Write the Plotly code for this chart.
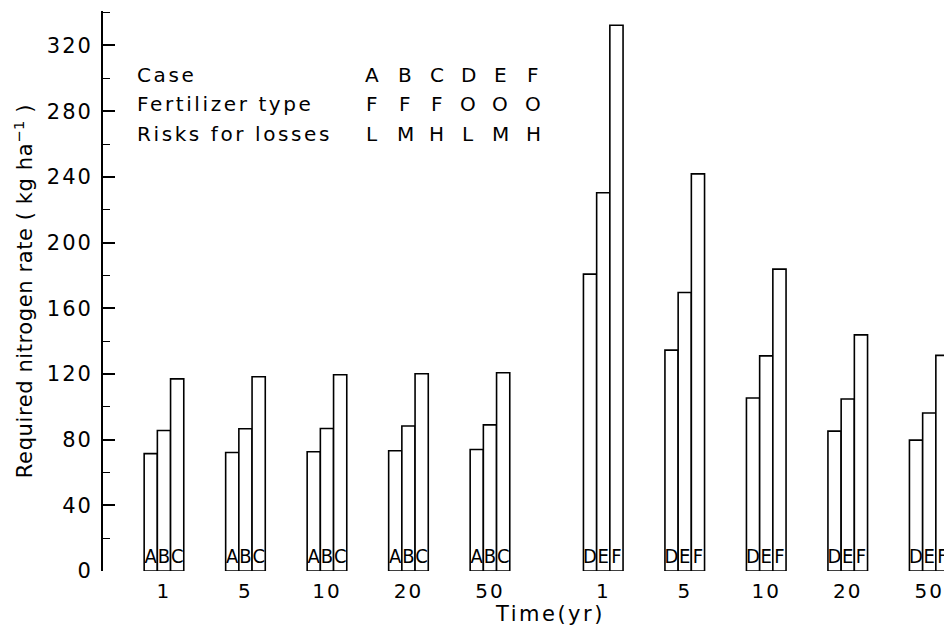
import plotly.graph_objects as go

# ---- data ----
times = ["1", "5", "10", "20", "50"]
case_A = [71.5, 72.2, 72.6, 73.2, 74.0]
case_B = [85.6, 86.6, 86.8, 88.3, 89.0]
case_C = [117.0, 118.3, 119.5, 120.1, 120.7]
case_D = [180.8, 134.5, 105.3, 85.2, 79.7]
case_E = [230.3, 169.6, 131.0, 104.7, 96.2]
case_F = [332.3, 241.8, 183.8, 143.8, 131.3]

cases = ["A", "B", "C", "D", "E", "F"]
fert_type = ["F", "F", "F", "O", "O", "O"]
risk = ["L", "M", "H", "L", "M", "H"]
row_labels = ["Case", "Fertilizer type", "Risks for losses"]

y_ticks = [0, 40, 80, 120, 160, 200, 240, 280, 320]
y_minor = [20, 60, 100, 140, 180, 220, 260, 300, 340]

# ---- layout helpers ----
W, H = 944, 631
ML, MR, MT, MB = 103, 0, 11, 60
left_pos = [0, 1, 2, 3, 4]
right_pos = [p + 5.39 for p in left_pos]
bw = 0.162
xr = [-0.748, -0.748 + (W - ML - MR) / 81.5]
yr = [0, 341]

font_main = "DejaVu Sans"
font_bar = "DejaVu Sans Condensed, DejaVu Sans"


def sp(t, s=2.5):
    return '<span style="letter-spacing:%spx">%s</span>' % (s, t)


fig = go.Figure()

series = [
    ("A", case_A, left_pos, -1),
    ("B", case_B, left_pos, 0),
    ("C", case_C, left_pos, 1),
    ("D", case_D, right_pos, -1),
    ("E", case_E, right_pos, 0),
    ("F", case_F, right_pos, 1),
]

for name, vals, pos, k in series:
    xs = [p + k * bw for p in pos]
    fig.add_trace(go.Bar(
        x=xs, y=vals, width=bw, name=name,
        marker=dict(color="white", line=dict(color="black", width=1.6)),
        showlegend=False, hoverinfo="y",
    ))
    fig.add_trace(go.Scatter(
        x=xs, y=[8.2] * len(xs), mode="text", text=[name] * len(xs),
        textposition="middle center",
        textfont=dict(family=font_bar, size=20, color="black"),
        showlegend=False, hoverinfo="skip",
    ))

tickvals = left_pos + right_pos
ticktext = [sp(t, 2) for t in times + times]

fig.update_layout(
    width=W, height=H,
    margin=dict(l=ML, r=MR, t=MT, b=MB, autoexpand=False),
    paper_bgcolor="white", plot_bgcolor="white",
    barmode="overlay",
    font=dict(family=font_main, size=20, color="black"),
    xaxis=dict(
        range=xr, tickvals=tickvals, ticktext=ticktext,
        showline=False, showgrid=False, zeroline=False, ticks="",
        tickfont=dict(size=20), ticklabelstandoff=6,
    ),
    yaxis=dict(
        range=yr, tickvals=y_ticks, ticktext=[sp(str(v), 2) for v in y_ticks],
        showline=True, linecolor="black", linewidth=1.8,
        showgrid=False, zeroline=False,
        ticks="inside", ticklen=12, tickwidth=1.6, tickcolor="black",
        minor=dict(tickvals=y_minor, ticks="inside", ticklen=7,
                   tickwidth=1.4, tickcolor="black"),
        tickfont=dict(size=21), ticklabelstandoff=4,
        title=dict(text=sp("Required nitrogen rate ( kg ha<sup>−1</sup> )", 0.6),
                   font=dict(size=21), standoff=8),
    ),
)


def px2paper(px, py):
    return (px - ML) / (W - ML - MR), (H - MB - py) / (H - MT - MB)


row_y = [75, 104.5, 134]
col_x = [371.7, 405, 436.7, 468.3, 500, 533.3]
rows = [cases, fert_type, risk]
for label, ry, vals in zip(row_labels, row_y, rows):
    ax, ay = px2paper(135, ry)
    fig.add_annotation(x=ax, y=ay, xref="paper", yref="paper", text=sp(label, 2.6),
                       showarrow=False, xanchor="left", yanchor="middle",
                       font=dict(size=20))
    for cx, v in zip(col_x, vals):
        ax, ay = px2paper(cx, ry)
        fig.add_annotation(x=ax, y=ay, xref="paper", yref="paper", text=v,
                           showarrow=False, xanchor="center", yanchor="middle",
                           font=dict(size=20))

tx, ty = px2paper(550, 614)
fig.add_annotation(x=tx, y=ty, xref="paper", yref="paper", text=sp("Time(yr)", 2.5),
                   showarrow=False, xanchor="center", yanchor="middle",
                   font=dict(size=21))

fig.write_html(
    "out.html",
    config={"displayModeBar": False},
    post_script="document.body.style.margin='0';document.body.style.overflow='hidden';",
)
